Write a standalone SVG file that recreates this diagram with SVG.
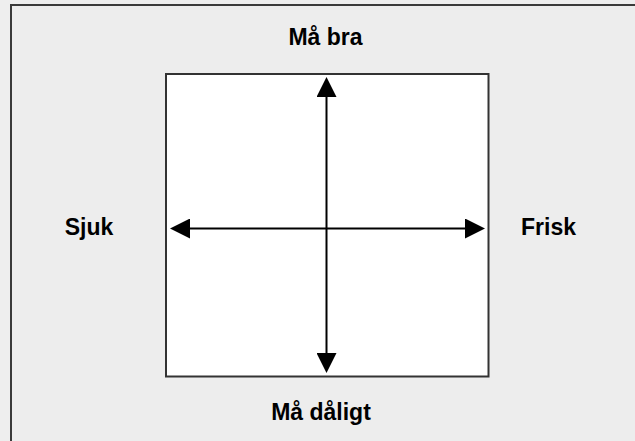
<svg xmlns="http://www.w3.org/2000/svg" width="635" height="441" viewBox="0 0 635 441">
<style>
.lbl{font-family:"Liberation Sans",Arial,sans-serif;font-weight:bold;font-size:23px;fill:#000;text-anchor:middle}
.axis{stroke:#000;stroke-width:2;fill:none}
</style>
<defs>
<marker id="tri" markerUnits="userSpaceOnUse" markerWidth="20" markerHeight="20" refX="0" refY="10" orient="auto-start-reverse">
<path d="M0,0 L20,10 L0,20 Z" fill="#000"/>
</marker>
</defs>
<rect x="0" y="0" width="635" height="441" fill="#eeeeee"/>
<rect id="frame" x="11" y="5" width="640" height="450" fill="#ededed" stroke="#3a3a3a" stroke-width="2"/>
<g id="box">
<rect x="166" y="74" width="322.5" height="302.5" fill="#ffffff" stroke="#333" stroke-width="2"/>
</g>
<g id="connectors">
<line class="axis" x1="326.5" y1="97" x2="326.5" y2="353" marker-start="url(#tri)" marker-end="url(#tri)"/>
<line class="axis" x1="190" y1="228.5" x2="465" y2="228.5" marker-start="url(#tri)" marker-end="url(#tri)"/>
</g>
<g id="top"><text class="lbl" x="325.5" y="45">Må bra</text></g>
<g id="bottom"><text class="lbl" x="321" y="420">Må dåligt</text></g>
<g id="left"><text class="lbl" x="89" y="234.5">Sjuk</text></g>
<g id="right"><text class="lbl" x="548.5" y="234.5">Frisk</text></g>
</svg>
